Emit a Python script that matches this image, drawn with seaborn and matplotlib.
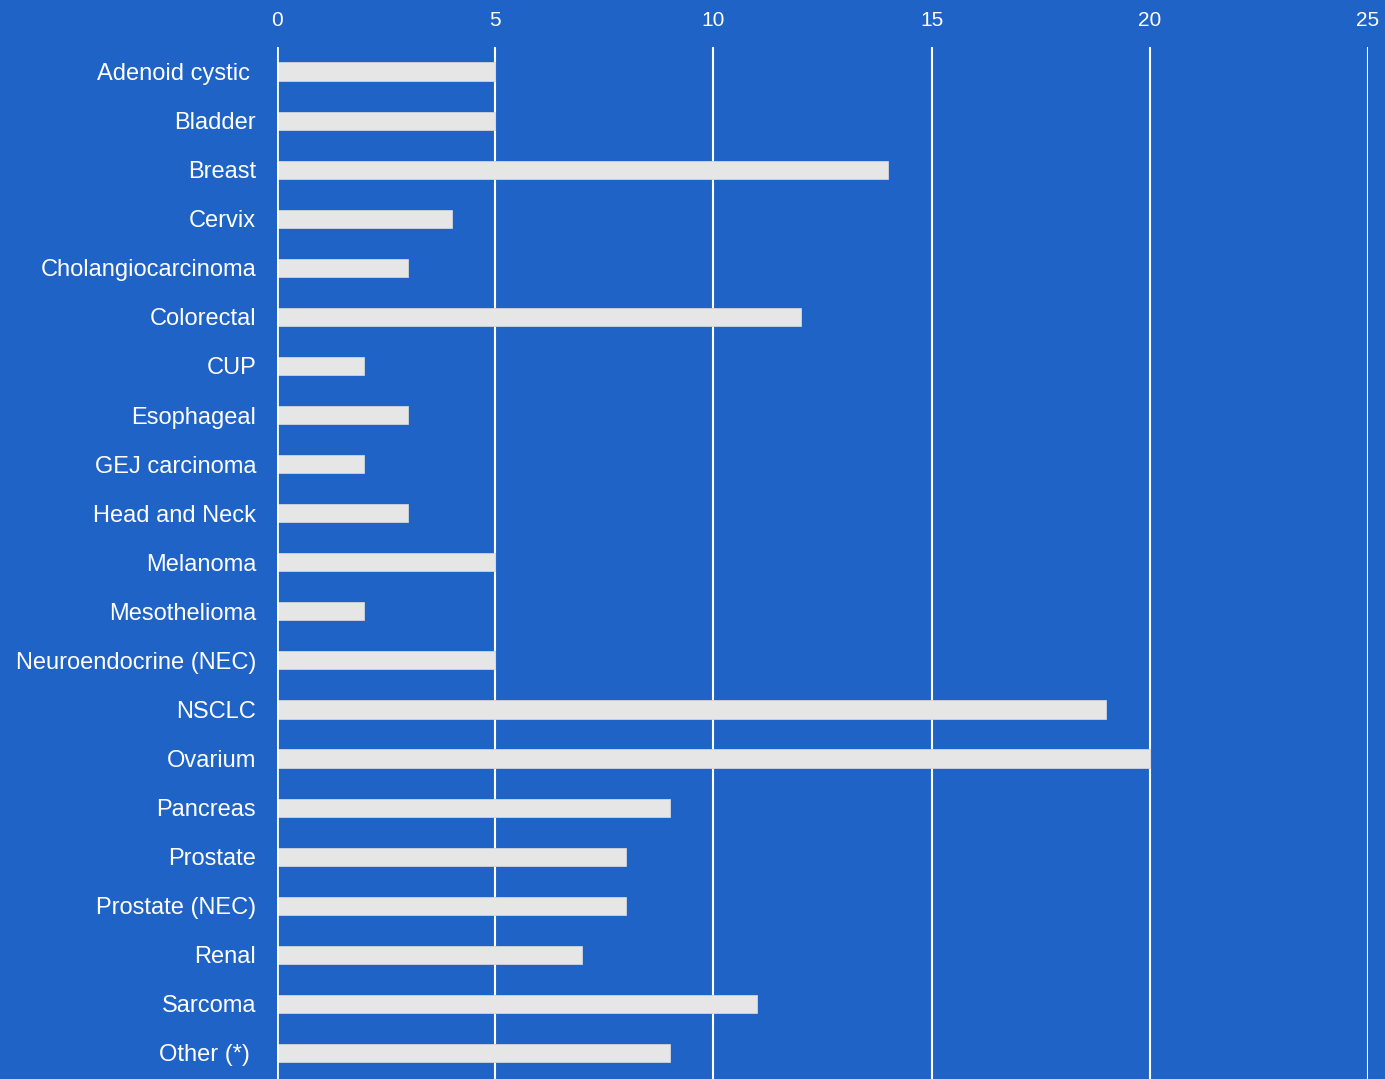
import matplotlib
matplotlib.use("Agg")
import matplotlib.pyplot as plt
import seaborn as sns
import pandas as pd
from matplotlib import font_manager

categories = ["Adenoid cystic ", "Bladder", "Breast", "Cervix", "Cholangiocarcinoma",
              "Colorectal", "CUP", "Esophageal", "GEJ carcinoma", "Head and Neck",
              "Melanoma", "Mesothelioma", "Neuroendocrine (NEC)", "NSCLC", "Ovarium",
              "Pancreas", "Prostate", "Prostate (NEC)", "Renal", "Sarcoma", "Other (*) "]
values = [5, 5, 14, 4, 3, 12, 2, 3, 2, 3, 5, 2, 5, 19, 20, 9, 8, 8, 7, 11, 9]
xticks = [0, 5, 10, 15, 20, 25]

BG = "#1F63C7"
BAR = "#E6E6E6"

sns.set_theme(style="white")
plt.rcParams["font.family"] = ["Liberation Sans", "DejaVu Sans"]

names = {f.name for f in font_manager.fontManager.ttflist}
narrow = "Liberation Sans Narrow" if "Liberation Sans Narrow" in names else None

df = pd.DataFrame({"category": categories, "value": values})

fig = plt.figure(figsize=(13.85, 10.79), dpi=100)
fig.patch.set_facecolor(BG)
ax = fig.add_axes([277 / 1385, 0.0, (1368 - 277) / 1385, 1 - 47 / 1079])
ax.set_facecolor(BG)

sns.barplot(data=df, x="value", y="category", orient="h", color=BAR,
            width=0.37, saturation=1, ax=ax, zorder=3,
            edgecolor="#D0D4DC", linewidth=0.6)

ax.set_xlim(0, 25)
ax.set_ylim(len(categories) - 0.5 + 0.03, -0.5)
ax.set_xticks(xticks)
ax.xaxis.tick_top()
ax.xaxis.set_label_position("top")
ax.set_xlabel("")
ax.set_ylabel("")
ax.grid(axis="x", color="white", linewidth=1.5, zorder=0)
ax.grid(axis="y", visible=False)
for s in ax.spines.values():
    s.set_visible(False)
ax.axvline(0, color="white", linewidth=2, zorder=4)
ax.tick_params(axis="x", length=0, pad=12, labelcolor="white")
ax.tick_params(axis="y", length=0, pad=15, labelsize=17, labelcolor="white")
for t in ax.get_xticklabels():
    if narrow:
        t.set_family([narrow, "Liberation Sans"])
        t.set_fontsize(17)
    else:
        t.set_fontsize(15)

fig.savefig("out.png", dpi=100, facecolor=BG)
